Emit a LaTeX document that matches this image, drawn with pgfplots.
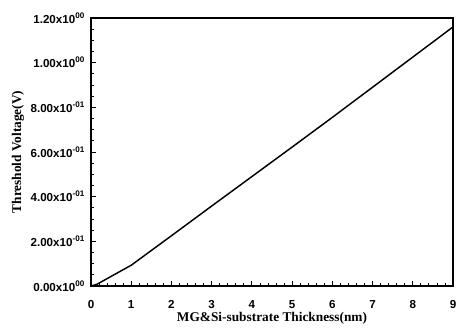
\documentclass[border=0pt]{standalone}
\usepackage{pgfplots}
\pgfplotsset{compat=1.18}
\usepackage{fontspec}
\setmainfont{Liberation Serif}
\newfontfamily\ticksf{Liberation Sans}
\begin{document}
\begin{tikzpicture}
\useasboundingbox (0,0) rectangle (344.25pt,250.5pt);
\begin{axis}[
  at={(68.25pt,36pt)}, anchor=south west,
  scale only axis, width=271.5pt, height=201pt,
  xmin=0, xmax=9, ymin=0, ymax=1.2,
  axis line style={line width=1pt},
  xtick={0,1,...,9},
  ytick={0,0.2,0.4,0.6,0.8,1.0,1.2},
  yticklabels={0.00x10\textsuperscript{00},2.00x10\textsuperscript{-01},4.00x10\textsuperscript{-01},6.00x10\textsuperscript{-01},8.00x10\textsuperscript{-01},1.00x10\textsuperscript{00},1.20x10\textsuperscript{00}},
  xticklabels={0,1,2,3,4,5,6,7,8,9},
  minor x tick num=4, minor y tick num=3,
  tick pos=left, tick align=inside,
  major tick length=4pt, minor tick length=2pt,
  tick style={black, line width=0.6pt},
  ticklabel style={font=\ticksf\bfseries\fontsize{8.7}{10}\selectfont},
  xticklabel style={yshift=-7pt},
  yticklabel style={xshift=-1pt},
  xlabel={MG\&Si-substrate Thickness(nm)},
  ylabel={Threshold Voltage(V)},
  label style={font=\bfseries\fontsize{10}{12}\selectfont},
  xlabel style={yshift=4pt},
  ylabel style={yshift=-2pt},
]
\addplot[black, line width=1.1pt] coordinates {
(0,0) (0.15,0.008) (1,0.093) (2,0.225) (3,0.358) (4,0.49) (5,0.622) (6,0.755) (7,0.89) (8,1.025) (9,1.16)
};
\end{axis}
\end{tikzpicture}
\end{document}
